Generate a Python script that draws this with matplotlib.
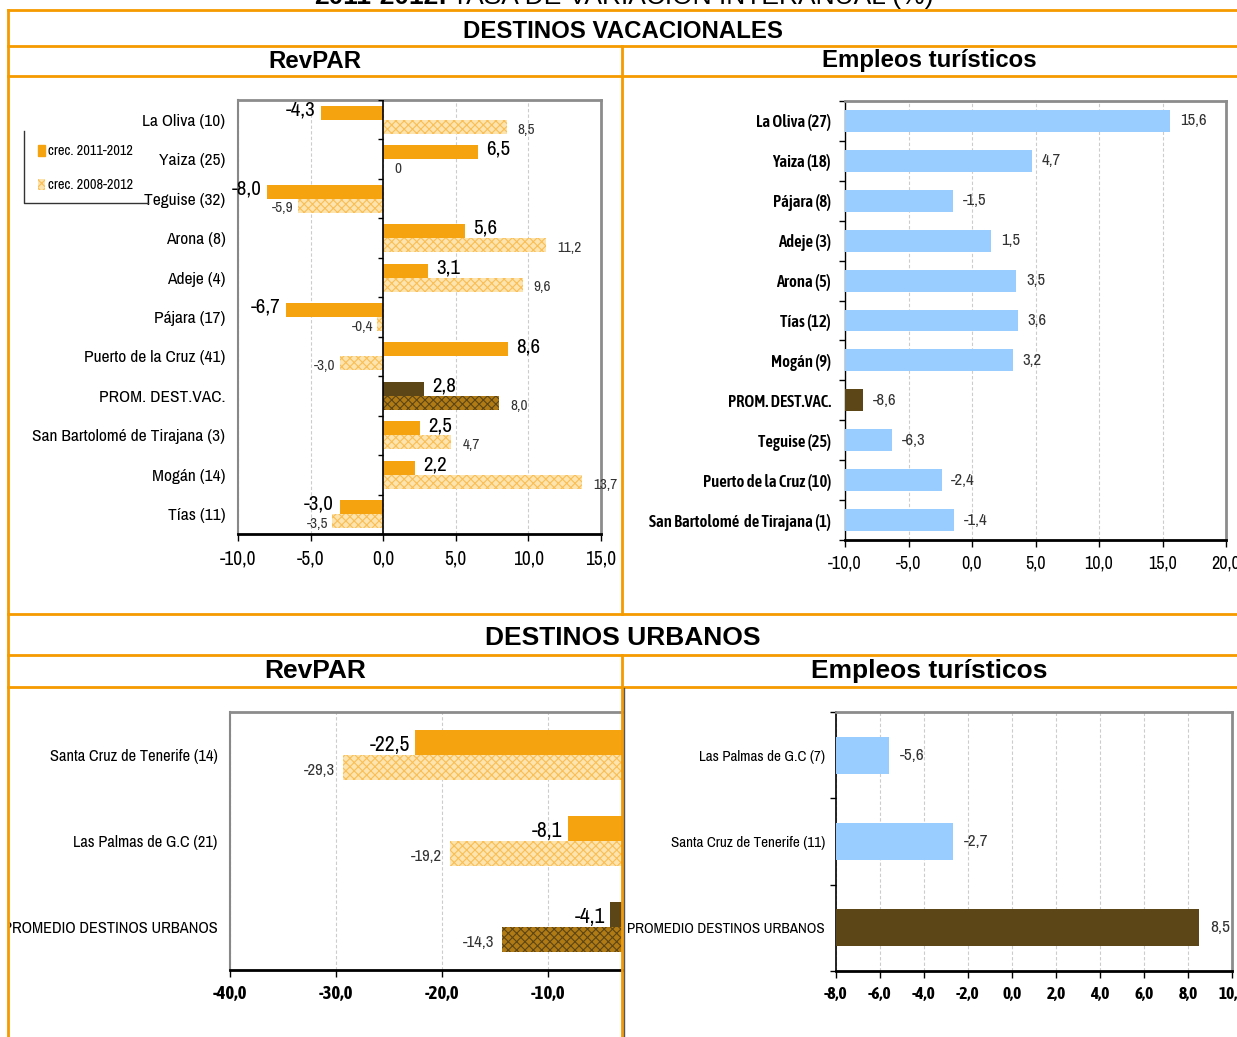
import numpy as np
import matplotlib
matplotlib.use('Agg')
import matplotlib.pyplot as plt
from matplotlib.ticker import FuncFormatter
from matplotlib.lines import Line2D
from matplotlib.patches import Rectangle, Patch

# datos
vac_rev_labels = ['La Oliva (10)', 'Yaiza (25)', 'Teguise (32)', 'Arona (8)', 'Adeje (4)', 'Pájara (17)',
                  'Puerto de la Cruz (41)', 'PROM. DEST.VAC.', 'San Bartolomé de Tirajana (3)',
                  'Mogán (14)', 'Tías (11)']
vac_rev_1112 = [-4.3, 6.5, -8.0, 5.6, 3.1, -6.7, 8.6, 2.8, 2.5, 2.2, -3.0]
vac_rev_0812 = [8.5, 0, -5.9, 11.2, 9.6, -0.4, -3.0, 8.0, 4.7, 13.7, -3.5]

vac_emp_labels = ['La Oliva (27)', 'Yaiza (18)', 'Pájara (8)', 'Adeje (3)', 'Arona (5)', 'Tías (12)',
                  'Mogán (9)', 'PROM. DEST.VAC.', 'Teguise (25)', 'Puerto de la Cruz (10)',
                  'San Bartolomé  de Tirajana (1)']
vac_emp = [15.6, 4.7, -1.5, 1.5, 3.5, 3.6, 3.2, -8.6, -6.3, -2.4, -1.4]

urb_rev_labels = ['Santa Cruz de Tenerife (14)', 'Las Palmas de G.C (21)', 'PROMEDIO DESTINOS URBANOS']
urb_rev_1112 = [-22.5, -8.1, -4.1]
urb_rev_0812 = [-29.3, -19.2, -14.3]

urb_emp_labels = ['Las Palmas de G.C (7)', 'Santa Cruz de Tenerife (11)', 'PROMEDIO DESTINOS URBANOS']
urb_emp = [-5.6, -2.7, 8.5]

ORANGE = '#F5A30F'
LIGHT = '#FDE3AE'
HATCH_OR = '#F9BE55'
BROWN = '#5C4516'
BROWN_L = '#B07A14'
BLUE = '#99CCFF'
BORDER = '#F59B00'
NARROW = ['Archivo Narrow', 'Liberation Sans Narrow', 'DejaVu Sans']
NARROW_B = ['Asap Condensed', 'Archivo Narrow', 'DejaVu Sans']
BOLDF = ['Liberation Sans', 'Arimo', 'DejaVu Sans']

plt.rcParams['hatch.linewidth'] = 0.8

W, H = 1237, 1037
fig = plt.figure(figsize=(W / 100, H / 100), dpi=100)


def fx(px):
    return px / W


def fy(py):
    return 1 - py / H


def coma(v, pos=None):
    return f'{v:.1f}'.replace('.', ',')


def ax_box(x0, y0, x1, y1):
    return fig.add_axes([fx(x0), fy(y1), fx(x1) - fx(x0), (y1 - y0) / H])


def style(ax, xlim, ticks, left_color='#888888', tsize=13, bold=False):
    ax.set_xlim(*xlim)
    ax.set_xticks(ticks)
    ax.xaxis.set_major_formatter(FuncFormatter(coma))
    ax.grid(axis='x', linestyle=(0, (3, 2)), color='#CCCCCC', lw=0.8)
    ax.set_axisbelow(True)
    for s in ['top', 'right']:
        ax.spines[s].set_color('#8C8C8C')
        ax.spines[s].set_linewidth(2)
    ax.spines['left'].set_color(left_color)
    ax.spines['left'].set_linewidth(1.5)
    ax.spines['bottom'].set_color('black')
    ax.spines['bottom'].set_linewidth(2)
    ax.tick_params(axis='x', length=5, width=1, direction='out', pad=6)
    ax.tick_params(axis='y', length=0, pad=8)
    for lab in ax.get_xticklabels():
        lab.set_fontfamily(NARROW_B if bold else NARROW)
        lab.set_fontsize(tsize)
        lab.set_fontweight('bold' if bold else 'normal')


# ---------------- RevPAR vacacional ----------------
ax1 = ax_box(238, 100, 601, 534)
n = len(vac_rev_labels)
y = np.arange(n)
h = 0.355
prom = [lab.startswith('PROM') for lab in vac_rev_labels]
c1 = [BROWN if p else ORANGE for p in prom]
c2 = [BROWN_L if p else LIGHT for p in prom]
hc = [BROWN if p else HATCH_OR for p in prom]
ax1.barh(y - h / 2, vac_rev_1112, height=h, color=c1, zorder=3)
ax1.barh(y + h / 2, vac_rev_0812, height=h, color=c2, edgecolor=hc, lw=0, hatch='xxxx', zorder=3)
ax1.set_ylim(n - 0.5, -0.5)
ax1.set_yticks(y)
ax1.set_yticklabels(vac_rev_labels, family=NARROW, fontsize=12.5)
style(ax1, (-10, 15), [-10, -5, 0, 5, 10, 15], tsize=14)
ax1.tick_params(axis='y', pad=9)
ax1.axvline(0, color='black', lw=1.2, zorder=4)
ax1.hlines(np.arange(n + 1) - 0.5, -0.35, 0, color='black', lw=1, zorder=4)
for yi, v in zip(y, vac_rev_1112):
    ax1.annotate(coma(v), (v, yi - h / 2), xytext=(6 if v >= 0 else -4, 2), textcoords='offset points',
                 ha='left' if v >= 0 else 'right', va='center', fontsize=15, family=NARROW, zorder=5)
for yi, v in zip(y, vac_rev_0812):
    txt = '0' if v == 0 else coma(v)
    ax1.annotate(txt, (v, yi + h / 2), xytext=(8 if v >= 0 else -3, -2), textcoords='offset points',
                 ha='left' if v >= 0 else 'right', va='center', fontsize=11, family=NARROW,
                 color='#333333', zorder=5)

# leyenda
fig.legend(handles=[Patch(color=ORANGE), Patch(facecolor=LIGHT, edgecolor=HATCH_OR, lw=0, hatch='xxxx')],
           labels=['crec. 2011-2012', 'crec. 2008-2012'], loc='upper left',
           bbox_to_anchor=(fx(31), fy(137)), frameon=False, prop={'family': NARROW, 'size': 10.3},
           handlelength=0.45, handleheight=0.8, handletextpad=0.25, labelspacing=1.4, borderpad=0)
fig.add_artist(Line2D([fx(24), fx(24), fx(148)], [fy(131), fy(203), fy(203)], color='#333333', lw=1))

# ---------------- Empleo vacacional ----------------
ax2 = ax_box(845, 101, 1226, 540)
n = len(vac_emp_labels)
y = np.arange(n)
xmin = -10
cols = [BROWN if lab.startswith('PROM') else BLUE for lab in vac_emp_labels]
ax2.barh(y, np.array(vac_emp) - xmin, left=xmin, height=0.55, color=cols, zorder=3)
ax2.set_ylim(n - 0.5, -0.5)
ax2.set_yticks(y)
ax2.set_yticklabels(vac_emp_labels, family=NARROW_B, fontsize=12, fontweight='semibold')
style(ax2, (-10, 20), [-10, -5, 0, 5, 10, 15, 20], left_color='black', tsize=13)
ax2.spines['left'].set_linewidth(1)
ax2.tick_params(axis='y', pad=10)
ax2.set_yticks(np.arange(n + 1) - 0.5, minor=True)
ax2.tick_params(axis='y', which='minor', length=4, width=1, color='black')
for yi, v in zip(y, vac_emp):
    ax2.annotate(coma(v), (v, yi), xytext=(7, 0), textcoords='offset points', ha='left', va='center',
                 fontsize=12, family=NARROW, color='#333333')

# ---------------- RevPAR urbano ----------------
ax3 = ax_box(230, 712, 622, 970)
n = len(urb_rev_labels)
y = np.arange(n)
h = 0.29
prom = [lab.startswith('PROM') for lab in urb_rev_labels]
c1 = [BROWN if p else ORANGE for p in prom]
c2 = [BROWN_L if p else LIGHT for p in prom]
hc = [BROWN if p else HATCH_OR for p in prom]
ax3.barh(y - h / 2, urb_rev_1112, height=h, color=c1, zorder=3)
ax3.barh(y + h / 2, urb_rev_0812, height=h, color=c2, edgecolor=hc, lw=0, hatch='xxxx', zorder=3)
ax3.set_ylim(n - 0.5, -0.5)
ax3.set_yticks(y)
ax3.set_yticklabels(urb_rev_labels, family=NARROW, fontsize=11.8)
style(ax3, (-40, -3.0), [-40, -30, -20, -10], tsize=13.5, bold=True)
ax3.spines['right'].set_visible(False)
ax3.tick_params(axis='y', pad=9)
for yi, v in zip(y, urb_rev_1112):
    ax3.annotate(coma(v), (v, yi - h / 2), xytext=(-4, -2), textcoords='offset points', ha='right',
                 va='center', fontsize=15.5, family=NARROW, zorder=5)
for yi, v in zip(y, urb_rev_0812):
    ax3.annotate(coma(v), (v, yi + h / 2), xytext=(-6, -2), textcoords='offset points', ha='right',
                 va='center', fontsize=12, family=NARROW, color='#333333', zorder=5)

# ---------------- Empleo urbano ----------------
ax4 = ax_box(836, 712, 1232, 971)
n = len(urb_emp_labels)
y = np.arange(n)
xmin = -8
cols = [BROWN if lab.startswith('PROM') else BLUE for lab in urb_emp_labels]
ax4.barh(y, np.array(urb_emp) - xmin, left=xmin, height=0.43, color=cols, zorder=3)
ax4.set_ylim(n - 0.5, -0.5)
ax4.set_yticks(y)
ax4.set_yticklabels(urb_emp_labels, family=NARROW, fontsize=10.9)
style(ax4, (-8, 10), list(range(-8, 11, 2)), left_color='black', tsize=12.5, bold=True)
ax4.spines['left'].set_linewidth(1.2)
ax4.tick_params(axis='y', pad=8)
ax4.set_yticks(np.arange(n + 1) - 0.5, minor=True)
ax4.tick_params(axis='y', which='minor', length=4, width=1, color='black')
for yi, v in zip(y, urb_emp):
    ax4.annotate(coma(v), (v, yi), xytext=(8, 0), textcoords='offset points', ha='left', va='center',
                 fontsize=12.5, family=NARROW, color='#333333')

# ---------------- marco tipo tabla ----------------
# tapa lo que sale por la izquierda
fig.add_artist(Rectangle((0, 0), fx(8), 1, transform=fig.transFigure, color='white', zorder=9))
for py in [10, 46, 76, 614, 655, 687]:
    fig.add_artist(Line2D([fx(8), 1], [fy(py), fy(py)], color=BORDER, lw=2, zorder=10))
fig.add_artist(Line2D([fx(8), fx(8)], [fy(10), 0], color=BORDER, lw=2, zorder=10))
fig.add_artist(Line2D([fx(622), fx(622)], [fy(46), fy(614)], color=BORDER, lw=2, zorder=10))
fig.add_artist(Line2D([fx(622), fx(622)], [fy(655), 0], color=BORDER, lw=2, zorder=10))
fig.add_artist(Line2D([fx(624), fx(624)], [fy(688), 0], color='#555555', lw=1, zorder=10))

# titulo cortado arriba
fig.text(fx(447), fy(4), '2011-2012:', ha='right', va='baseline', fontsize=19, fontweight='bold', family=BOLDF)
fig.text(fx(452), fy(4), 'TASA DE VARIACIÓN INTERANUAL (%)', ha='left', va='baseline', fontsize=19,
         family=BOLDF)

fig.text(fx(623), fy(31), 'DESTINOS VACACIONALES', ha='center', va='center', fontsize=17.3,
         fontweight='bold', family=BOLDF)
fig.text(fx(315), fy(61), 'RevPAR', ha='center', va='center', fontsize=17.3, fontweight='bold', family=BOLDF)
fig.text(fx(929), fy(61), 'Empleos turísticos', ha='center', va='center', fontsize=17.3, fontweight='bold',
         family=BOLDF)
fig.text(fx(623), fy(638), 'DESTINOS URBANOS', ha='center', va='center', fontsize=19, fontweight='bold',
         family=BOLDF)
fig.text(fx(315), fy(671), 'RevPAR', ha='center', va='center', fontsize=19, fontweight='bold', family=BOLDF)
fig.text(fx(929), fy(671), 'Empleos turísticos', ha='center', va='center', fontsize=19, fontweight='bold',
         family=BOLDF)

fig.savefig('out.png', dpi=100)
